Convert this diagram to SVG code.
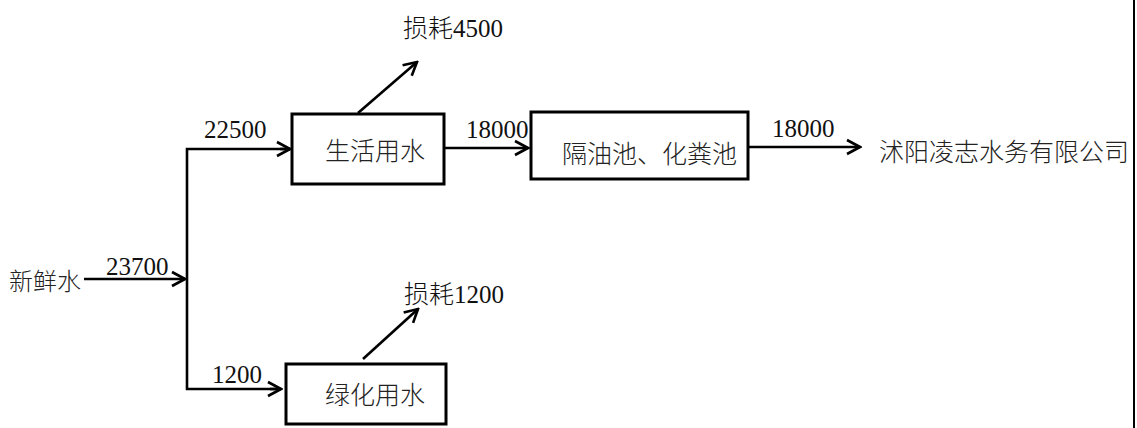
<svg xmlns="http://www.w3.org/2000/svg" width="1137" height="428" viewBox="0 0 1137 428">
<style>
.box{fill:#fff;stroke:#000;stroke-width:3}
.ln{fill:none;stroke:#000;stroke-width:2.6}
.cn{font-family:"Noto Sans CJK SC","Liberation Sans",sans-serif;font-size:25px;font-weight:300;fill:#222;dominant-baseline:central}
.num{font-family:"Liberation Serif","Noto Sans CJK SC",serif;font-size:25px;fill:#111}
</style>
<defs>
<marker id="ah" markerUnits="userSpaceOnUse" viewBox="-16 -10 18 20" refX="0" refY="0" markerWidth="18" markerHeight="20" orient="auto">
<path d="M-13,-7 L0,0 L-13,7" fill="none" stroke="#000" stroke-width="2.6" stroke-linejoin="miter"/>
</marker>
</defs>
<rect width="1137" height="428" fill="#fff"/>
<g id="connectors">
<line class="ln" x1="84" y1="279" x2="185" y2="279" marker-end="url(#ah)"/>
<polyline class="ln" points="290,149 187,149 187,389 280,389"/>
<line class="ln" x1="280" y1="149" x2="290" y2="149" marker-end="url(#ah)"/>
<line class="ln" x1="270" y1="389" x2="281" y2="389" marker-end="url(#ah)"/>
<line class="ln" x1="444" y1="148" x2="528" y2="148" marker-end="url(#ah)"/>
<line class="ln" x1="748" y1="147" x2="860" y2="147" marker-end="url(#ah)"/>
<line class="ln" x1="358" y1="113" x2="417" y2="62" marker-end="url(#ah)"/>
<line class="ln" x1="363" y1="359" x2="418" y2="309" marker-end="url(#ah)"/>
<line x1="1134" y1="0" x2="1134" y2="428" stroke="#000" stroke-width="2"/>
</g>
<g id="labels">
<text class="num" x="106" y="275">23700</text>
<text class="num" x="204" y="138">22500</text>
<text class="num" x="212" y="383">1200</text>
<text class="num" x="466" y="138">18000</text>
<text class="num" x="772" y="137">18000</text>
<text class="num" x="403" y="37"><tspan style="font-weight:300">损耗</tspan>4500</text>
<text class="num" x="404" y="303"><tspan style="font-weight:300">损耗</tspan>1200</text>
</g>
<g id="n-fresh"><text class="cn" x="9" y="279" style="font-size:24px">新鲜水</text></g>
<g id="n-living"><rect class="box" x="292" y="114" width="152" height="70"/><text class="cn" x="325" y="149">生活用水</text></g>
<g id="n-tank"><rect class="box" x="531" y="112" width="217" height="67"/><text class="cn" x="562" y="152">隔油池、化粪池</text></g>
<g id="n-company"><text class="cn" x="879" y="150">沭阳凌志水务有限公司</text></g>
<g id="n-green"><rect class="box" x="286" y="364" width="160" height="60"/><text class="cn" x="325" y="393">绿化用水</text></g>
</svg>
